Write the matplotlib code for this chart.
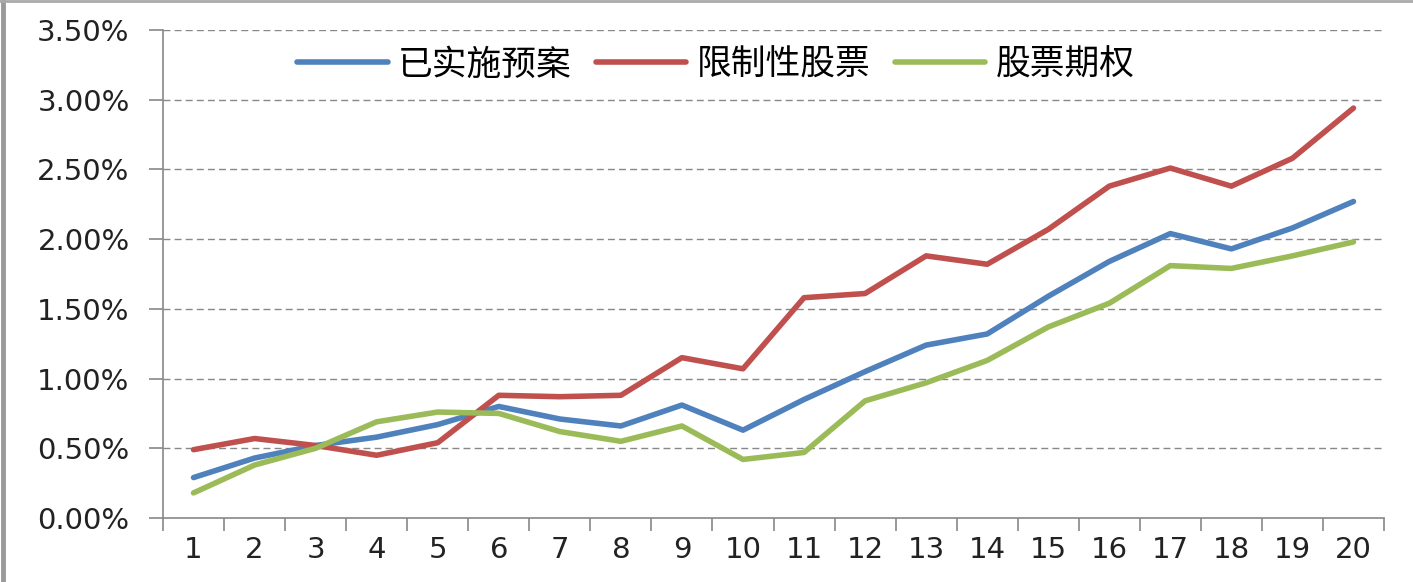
import matplotlib
matplotlib.use("Agg")
import matplotlib.pyplot as plt
from matplotlib.ticker import FuncFormatter, FixedLocator
from matplotlib.lines import Line2D

plt.rcParams['font.family'] = ['Noto Sans CJK SC', 'DejaVu Sans']

categories = list(range(1, 21))
series_names = ["已实施预案", "限制性股票", "股票期权"]
implemented = [0.29, 0.43, 0.52, 0.58, 0.67, 0.80, 0.71, 0.66, 0.81, 0.63,
               0.85, 1.05, 1.24, 1.32, 1.59, 1.84, 2.04, 1.93, 2.08, 2.27]
restricted = [0.49, 0.57, 0.52, 0.45, 0.54, 0.88, 0.87, 0.88, 1.15, 1.07,
              1.58, 1.61, 1.88, 1.82, 2.07, 2.38, 2.51, 2.38, 2.58, 2.94]
options = [0.18, 0.38, 0.50, 0.69, 0.76, 0.75, 0.62, 0.55, 0.66, 0.42,
           0.47, 0.84, 0.97, 1.13, 1.37, 1.54, 1.81, 1.79, 1.88, 1.98]
y_ticks = [0.0, 0.5, 1.0, 1.5, 2.0, 2.5, 3.0, 3.5]
colors = ["#4F81BD", "#C0504D", "#9BBB59"]

W, H = 1413, 582
fig = plt.figure(figsize=(W / 100, H / 100), dpi=100)
ax = fig.add_axes([163 / W, 1 - 518 / H, (1384 - 163) / W, (518 - 30) / H])

for vals, name, c in zip([implemented, restricted, options], series_names, colors):
    ax.plot(categories, vals, color=c, lw=4, label=name, solid_capstyle='round', solid_joinstyle='round')

ax.set_xlim(0.5, 20.5)
ax.set_ylim(0, 3.5)
ax.set_yticks(y_ticks)
ax.yaxis.set_major_formatter(FuncFormatter(lambda v, p: f"{v:.2f}%"))
ax.set_xticks(categories)
ax.xaxis.set_minor_locator(FixedLocator([i + 0.5 for i in range(0, 21)]))
ax.tick_params(axis='x', which='major', length=0, pad=13, labelsize=21, labelcolor='#222222')
ax.tick_params(axis='x', which='minor', length=9, color='#888888', width=1.2)
ax.tick_params(axis='y', which='major', length=10, color='#888888', width=1.2, pad=14,
               labelsize=21, labelcolor='#222222')
for lab in ax.get_xticklabels() + ax.get_yticklabels():
    lab.set_family('DejaVu Sans')

for v in y_ticks[1:]:
    ax.axhline(v, color='#888888', lw=1, ls=(0, (5, 3)), zorder=0)

for s in ['top', 'right']:
    ax.spines[s].set_visible(False)
for s in ['left', 'bottom']:
    ax.spines[s].set_color('#888888')
    ax.spines[s].set_linewidth(1.2)

fig.legend(loc='center', bbox_to_anchor=(716 / W, 1 - 65 / H), ncol=3, frameon=False,
           fontsize=25, handlelength=2.6, handletextpad=0.3, columnspacing=0.7)

fig.add_artist(Line2D([2.5 / W, 2.5 / W], [0, 1], transform=fig.transFigure, color='#999999', lw=3.5))
fig.add_artist(Line2D([0, 1], [1 - 1 / H, 1 - 1 / H], transform=fig.transFigure, color='#aaaaaa', lw=2))

fig.savefig("out.png", dpi=100)
